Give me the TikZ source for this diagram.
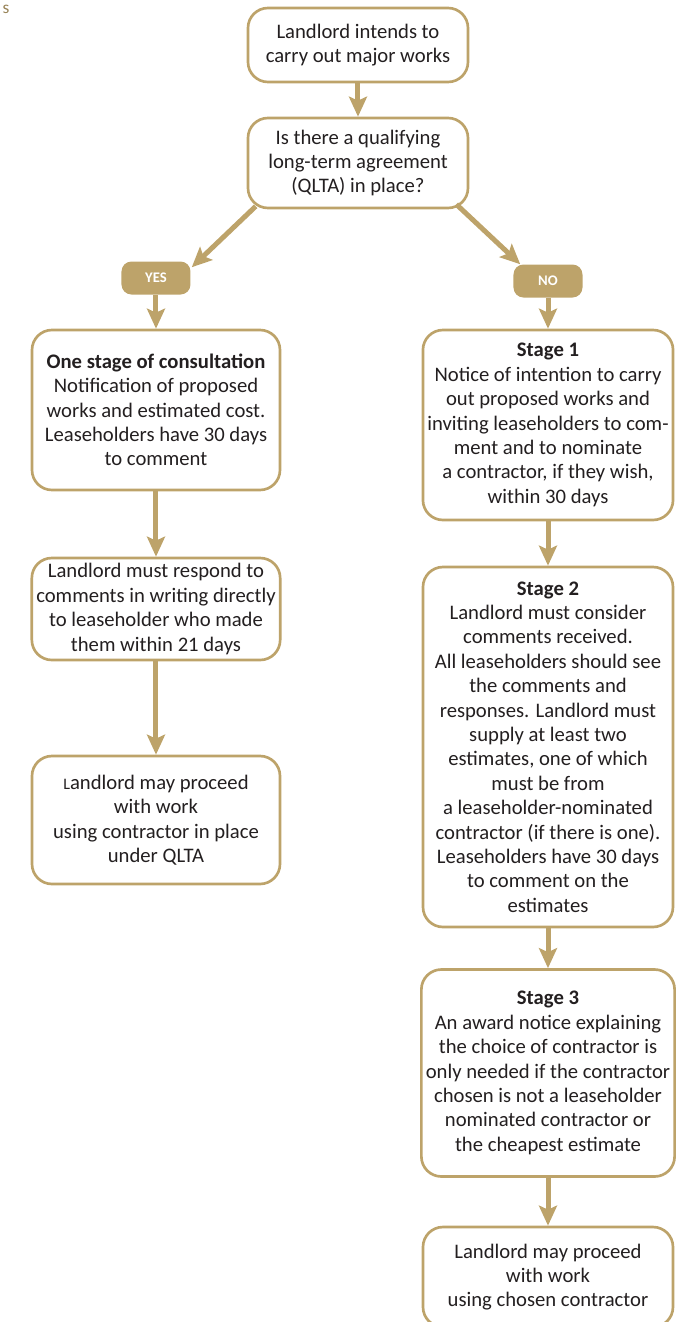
\documentclass[tikz,border=0pt]{standalone}
\usepackage{fontspec}
\setmainfont{Carlito}
\usepackage{xcolor}
\usepackage{tikz}
\usetikzlibrary{positioning, arrows.meta}
\definecolor{gold}{RGB}{189,163,106}
\definecolor{ink}{RGB}{35,31,32}
\tikzstyle{block} = [rectangle, draw=gold, line width=2pt, fill=white, text=ink,
    align=center, rounded corners=15pt, font=\fontsize{15.5}{18.3}\selectfont]
\tikzstyle{answer} = [rectangle, fill=gold, text=white, rounded corners=7.5pt,
    minimum width=51.75pt, minimum height=24.75pt, font=\fontsize{11}{11}\selectfont\bfseries]
\tikzstyle{flow} = [draw=gold, line width=3.75pt,
    -{Stealth[length=15pt, width=13.5pt, inset=3pt]}]

\begin{document}
\begin{tikzpicture}[auto, node distance=2cm]
                \useasboundingbox (-268.5pt,33.75pt) rectangle (243.75pt,-957.75pt);
                % Nodes
                \node [block, minimum width=165pt, minimum height=55.5pt] (start)
                    {Landlord intends to\\carry out major works};
                \node [block, below of=start, node distance=88.5pt,
                    minimum width=165pt, minimum height=67.5pt] (qlta)
                    {Is there a qualifying\\long-term agreement\\(QLTA) in place?};
                \node at ([xshift=-264pt, yshift=27pt]start.center)
                    [text=gold!80!black, font=\fontsize{13}{13}\selectfont, inner sep=0pt] (stray) {s};

                \node [answer, below of=qlta, node distance=86.25pt, xshift=-151.5pt] (yes) {YES};
                \node [answer, below of=qlta, node distance=88.5pt, xshift=142.5pt] (no) {NO};

                % QLTA side
                \node [block, below of=yes, node distance=99pt,
                    minimum width=186pt, minimum height=120pt] (onestage)
                    {\textbf{One stage of consultation}\\Notification of proposed\\works and estimated cost.\\Leaseholders have 30 days\\to comment};
                \node [block, below of=onestage, node distance=149.25pt,
                    minimum width=186pt, minimum height=76.5pt] (respond)
                    {Landlord must respond to\\comments in writing directly\\to leaseholder who made\\them within 21 days};
                \node [block, below of=respond, node distance=158.25pt,
                    minimum width=186pt, minimum height=96pt] (proceedqlta)
                    {{\fontsize{12}{12}\selectfont L}andlord may proceed\\with work\\using contractor in place\\under QLTA};

                % no QLTA side
                \node [block, below of=no, node distance=108pt,
                    minimum width=187.5pt, minimum height=142.5pt] (stage1)
                    {\textbf{Stage 1}\\Notice of intention to carry\\out proposed works and\\inviting leaseholders to com-\\ment and to nominate\\a contractor, if they wish,\\within 30 days};
                \node [block, below of=stage1, node distance=241.5pt,
                    minimum width=187.5pt, minimum height=270pt] (stage2)
                    {\textbf{Stage 2}\\Landlord must consider\\comments received.\\All leaseholders should see\\the comments and\\responses. Landlord must\\supply at least two\\estimates, one of which\\must be from\\a leaseholder-nominated\\contractor (if there is one).\\Leaseholders have 30 days\\to comment on the\\estimates};
                \node [block, below of=stage2, node distance=244.5pt,
                    minimum width=187.5pt, minimum height=155.25pt] (stage3)
                    {\textbf{Stage 3}\\An award notice explaining\\the choice of contractor is\\only needed if the contractor\\chosen is not a leaseholder\\nominated contractor or\\the cheapest estimate};
                \node [block, below of=stage3, node distance=153pt,
                    minimum width=187.5pt, minimum height=75pt] (proceed)
                    {Landlord may proceed\\with work\\using chosen contractor};

                % Connections
                \draw [flow] (start) -- (qlta);
                \draw [flow] ([xshift=6.75pt, yshift=2.25pt]qlta.south west) -- ([xshift=0.75pt, yshift=-4.5pt]yes.north east);
                \draw [flow] ([xshift=-9.75pt, yshift=3.75pt]qlta.south east) -- ([xshift=5.25pt]no.north west);
                \draw [flow] (yes) -- (onestage);
                \draw [flow] (onestage) -- (respond);
                \draw [flow] (respond) -- (proceedqlta);
                \draw [flow] (no) -- (stage1);
                \draw [flow] (stage1) -- (stage2);
                \draw [flow] (stage2) -- (stage3);
                \draw [flow] (stage3) -- (proceed);

            \end{tikzpicture}
\end{document}
